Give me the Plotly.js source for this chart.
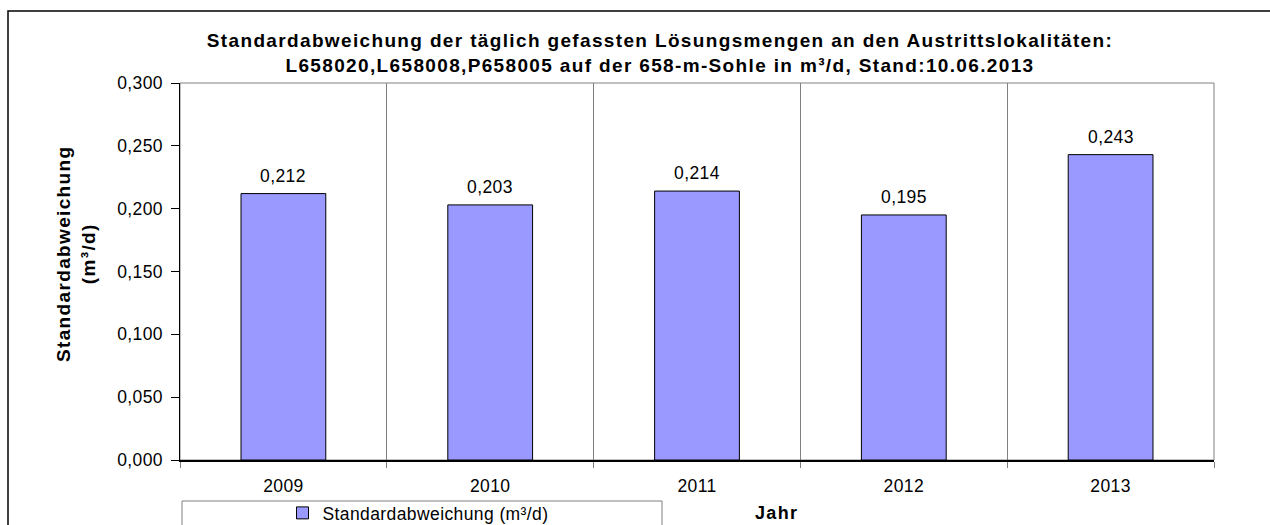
<!DOCTYPE html>
<html>
<head>
<meta charset="utf-8">
<script src="https://cdn.plot.ly/plotly-3.0.1.min.js"></script>
<style>
  html, body { margin: 0; padding: 0; background: #fff; }
  #chart { width: 1270px; height: 525px; }
  text { letter-spacing: 0.4px; }
  tspan[style*="bold"] { letter-spacing: 1.35px; }
</style>
</head>
<body>
<div id="chart"></div>
<script>
const years = ['2009', '2010', '2011', '2012', '2013'];
const stdDev = [0.212, 0.203, 0.214, 0.195, 0.243];
const seriesName = 'Standardabweichung (m³/d)';
const titleLines = [
  'Standardabweichung der täglich gefassten Lösungsmengen an den Austrittslokalitäten:',
  'L658020,L658008,P658005 auf der 658-m-Sohle in m³/d, Stand:10.06.2013'
];
const yTitleLines = ['Standardabweichung', '(m³/d)'];
const xTitle = 'Jahr';

const W = 1270, H = 525;
const M = { l: 180, r: 56, t: 83, b: 65, autoexpand: false };
const PW = W - M.l - M.r, PH = H - M.t - M.b;
const px = x => (x - M.l) / PW;
const py = y => (H - M.b - y) / PH;

const FONT = 'Liberation Sans, Arial, sans-serif';

const trace = {
  type: 'bar',
  x: years,
  y: stdDev,
  name: seriesName,
  width: 0.41,
  marker: { color: '#9999FF', line: { color: '#000000', width: 1 } },
  hoverinfo: 'x+y',
  showlegend: true
};

const valueAnnotations = years.map((yr, i) => ({
  x: i, y: stdDev[i], xref: 'x', yref: 'y',
  text: stdDev[i].toFixed(3).replace('.', ','),
  showarrow: false, yanchor: 'bottom', yshift: 6,
  font: { family: FONT, size: 17.5, color: '#000' }
}));

const layout = {
  width: W, height: H,
  margin: M,
  paper_bgcolor: '#fff', plot_bgcolor: '#fff',
  separators: ',.',
  font: { family: FONT, size: 17.5, color: '#000' },
  title: {
    text: '<b>' + titleLines.join('<br>') + '</b>',
    x: 660 / W, xref: 'container', xanchor: 'center',
    y: 1 - 47 / H, yref: 'container', yanchor: 'middle',
    font: { family: FONT, size: 19, color: '#000' }
  },
  xaxis: {
    type: 'category',
    categoryarray: years, categoryorder: 'array',
    range: [-0.5, years.length - 0.5],
    tickson: 'boundaries',
    ticks: 'outside', ticklen: 6, tickcolor: '#808080', tickwidth: 1,
    showgrid: true, gridcolor: '#808080', gridwidth: 1,
    showline: true, linecolor: '#000', linewidth: 1.5,
    ticklabelstandoff: 9,
    tickangle: 0,
    tickfont: { family: FONT, size: 17.5, color: '#000' },
    zeroline: false
  },
  yaxis: {
    range: [0, 0.3], dtick: 0.05, tick0: 0,
    tickformat: '.3f',
    ticks: 'outside', ticklen: 8, tickcolor: '#000', tickwidth: 1,
    showgrid: false, zeroline: false,
    showline: true, linecolor: '#000', linewidth: 1.5,
    ticklabelstandoff: 4,
    tickfont: { family: FONT, size: 17.5, color: '#000' }
  },
  showlegend: true,
  legend: {
    orientation: 'h',
    x: px(418), xanchor: 'center',
    y: py(513), yanchor: 'middle',
    bgcolor: 'rgba(0,0,0,0)', borderwidth: 0,
    font: { family: FONT, size: 17.5, color: '#000' }
  },
  shapes: [
    { type: 'rect', xref: 'paper', yref: 'paper', x0: 0, x1: 1, y0: 0, y1: 1,
      line: { color: '#808080', width: 1 }, layer: 'below' },
    { type: 'rect', xref: 'paper', yref: 'paper', x0: px(8), x1: px(1300), y0: py(580), y1: py(11),
      line: { color: '#000', width: 1.5 }, fillcolor: 'rgba(0,0,0,0)', layer: 'below' },
    { type: 'rect', xref: 'paper', yref: 'paper', x0: px(182), x1: px(662), y0: py(580), y1: py(501),
      line: { color: '#808080', width: 1 }, fillcolor: 'rgba(0,0,0,0)', layer: 'below' }
  ],
  annotations: valueAnnotations.concat([
    { xref: 'paper', yref: 'paper', x: px(76), y: py(254),
      text: '<b>' + yTitleLines.join('<br>') + '</b>', textangle: -90,
      showarrow: false, xanchor: 'center', yanchor: 'middle',
      font: { family: FONT, size: 19, color: '#000' } },
    { xref: 'paper', yref: 'paper', x: px(776), y: py(513),
      text: '<b>' + xTitle + '</b>',
      showarrow: false, xanchor: 'center', yanchor: 'middle',
      font: { family: FONT, size: 18, color: '#000' } }
  ])
};

Plotly.newPlot('chart', [trace], layout, { displayModeBar: false, staticPlot: true });
</script>
</body>
</html>
